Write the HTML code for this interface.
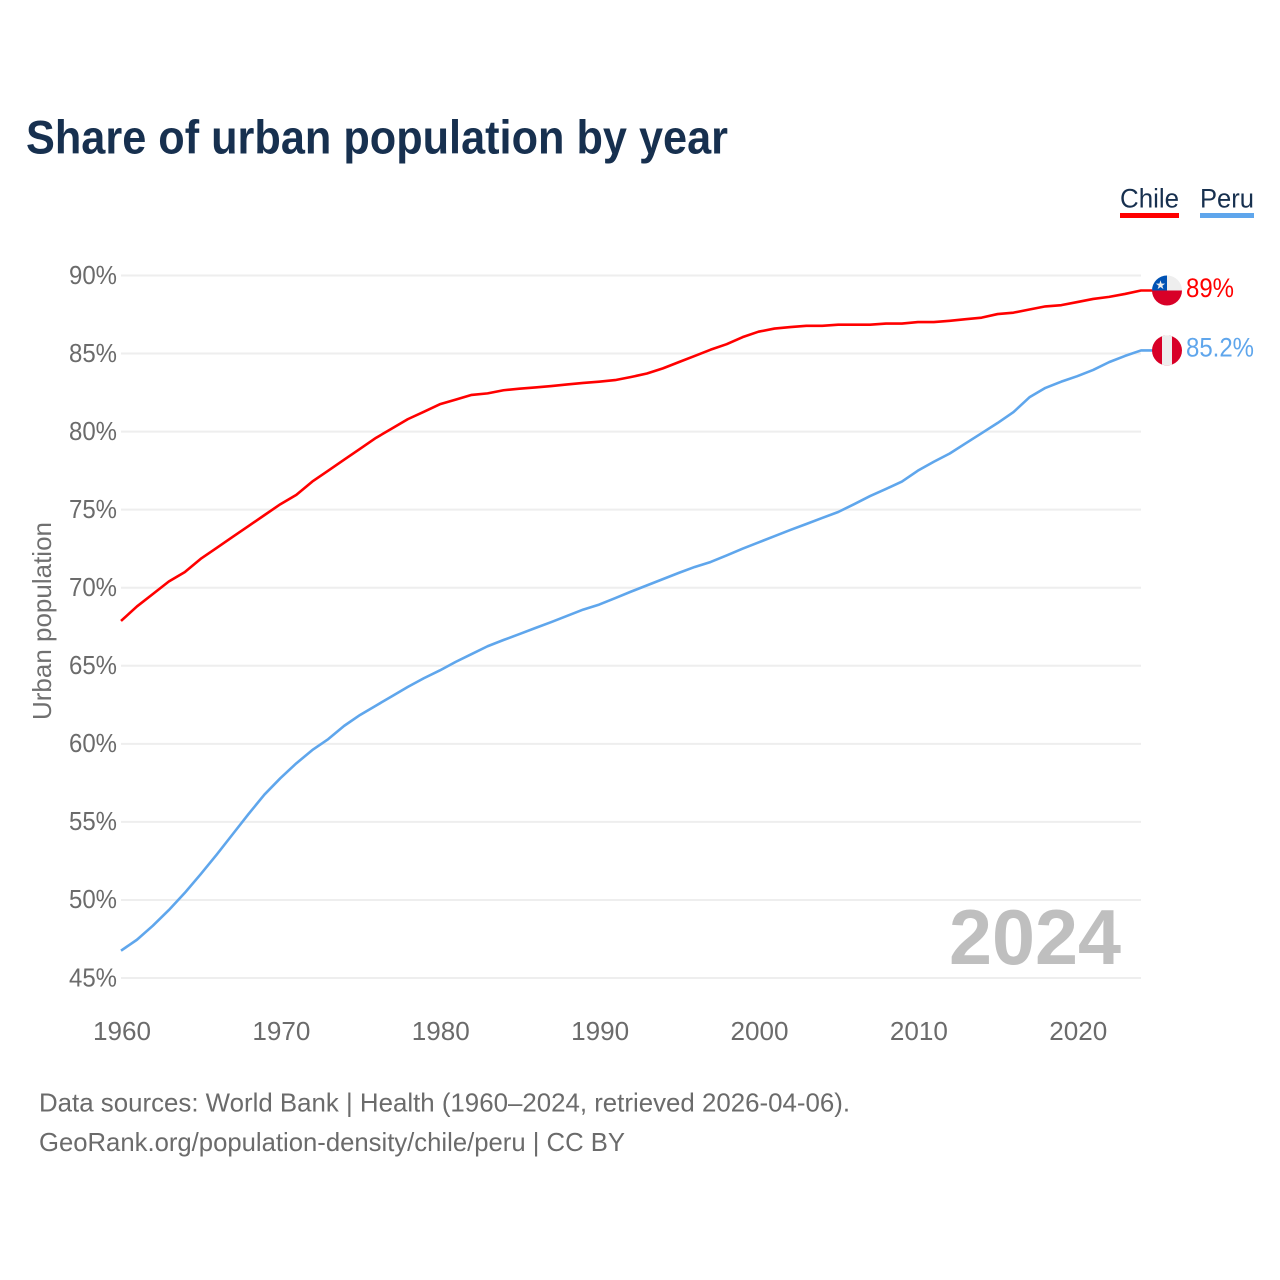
<!DOCTYPE html>
<html lang="en">
<head>
<meta charset="utf-8">
<title>Share of urban population by year</title>
<style>
html,body{margin:0;padding:0;background:#fff;width:1280px;height:1280px;overflow:hidden}
svg{display:block;font-family:"Liberation Sans",sans-serif}
</style>
</head>
<body>
<svg id="chart" xmlns="http://www.w3.org/2000/svg" width="1280" height="1280" viewBox="0 0 1280 1280">
  <rect width="1280" height="1280" fill="#fff"/>
  <text x="26" y="153.5" font-size="47" font-weight="700" fill="#17304f" textLength="702" lengthAdjust="spacingAndGlyphs">Share of urban population by year</text>

  <g>
    <text x="1120" y="207.5" font-size="27" fill="#17304f" textLength="59" lengthAdjust="spacingAndGlyphs">Chile</text>
    <rect x="1120" y="213" width="59" height="5" fill="#ff0000"/>
  </g>
  <g>
    <text x="1200" y="207.5" font-size="27" fill="#17304f" textLength="54" lengthAdjust="spacingAndGlyphs">Peru</text>
    <rect x="1200" y="213" width="54" height="5" fill="#5fa6ec"/>
  </g>

  <g id="grid"></g>
  <g id="yticks"></g>
  <g id="xticks"></g>

  <text transform="translate(51,621) rotate(-90)" text-anchor="middle" font-size="26" fill="#707070" textLength="198" lengthAdjust="spacingAndGlyphs">Urban population</text>

  <text x="949" y="964" font-size="78" font-weight="700" fill="#bfbfbf" textLength="172" lengthAdjust="spacingAndGlyphs">2024</text>

  <path id="line-chile" fill="none" stroke="#ff0000" stroke-width="2.6" stroke-linejoin="round"/>
  <path id="line-peru" fill="none" stroke="#5fa6ec" stroke-width="2.6" stroke-linejoin="round"/>

  <defs>
    <clipPath id="clip-chile"><circle id="clip-chile-c" cx="1167" r="15"/></clipPath>
    <clipPath id="clip-peru"><circle id="clip-peru-c" cx="1167" r="15"/></clipPath>
  </defs>
  <g id="flag-chile" clip-path="url(#clip-chile)"></g>
  <g id="flag-peru" clip-path="url(#clip-peru)"></g>

  <text id="value-chile" x="1186" font-size="27" fill="#ff0000" textLength="48" lengthAdjust="spacingAndGlyphs"></text>
  <text id="value-peru" x="1186" font-size="27" fill="#5fa6ec" textLength="68" lengthAdjust="spacingAndGlyphs"></text>

  <text x="39" y="1111.5" font-size="26" fill="#6b6b6b" textLength="811" lengthAdjust="spacingAndGlyphs">Data sources: World Bank | Health (1960–2024, retrieved 2026-04-06).</text>
  <text x="39" y="1151" font-size="26" fill="#6b6b6b" textLength="586" lengthAdjust="spacingAndGlyphs">GeoRank.org/population-density/chile/peru | CC BY</text>
</svg>
<script>
const firstYear = 1960;
const yTickValues = [90, 85, 80, 75, 70, 65, 60, 55, 50, 45];
const xTickValues = [1960, 1970, 1980, 1990, 2000, 2010, 2020];
const chileValues = [
  67.87, 68.8, 69.6, 70.4, 71.0, 71.85, 72.55, 73.25, 73.95, 74.65,
  75.35, 75.95, 76.8, 77.5, 78.2, 78.9, 79.6, 80.2, 80.8, 81.27,
  81.75, 82.05, 82.35, 82.45, 82.65, 82.75, 82.83, 82.92, 83.02, 83.12,
  83.2, 83.3, 83.5, 83.72, 84.05, 84.45, 84.85, 85.25, 85.6, 86.05,
  86.4, 86.6, 86.7, 86.78, 86.78, 86.85, 86.85, 86.85, 86.92, 86.92,
  87.02, 87.02, 87.1, 87.2, 87.3, 87.53, 87.62, 87.82, 88.02, 88.1,
  88.3, 88.5, 88.63, 88.82, 89.04
];
const peruValues = [
  46.75, 47.45, 48.35, 49.35, 50.45, 51.65, 52.9, 54.2, 55.5, 56.75,
  57.8, 58.75, 59.6, 60.3, 61.15, 61.85, 62.45, 63.05, 63.65, 64.2,
  64.7, 65.25, 65.75, 66.25, 66.65, 67.03, 67.42, 67.8, 68.2, 68.6,
  68.92, 69.33, 69.75, 70.15, 70.55, 70.95, 71.33, 71.65, 72.07, 72.5,
  72.9, 73.3, 73.7, 74.08, 74.47, 74.85, 75.35, 75.87, 76.33, 76.8,
  77.5, 78.07, 78.6, 79.25, 79.9, 80.55, 81.25, 82.2, 82.8, 83.2,
  83.55, 83.95, 84.45, 84.85, 85.2
];
const chileEndLabel = "89%";
const peruEndLabel = "85.2%";

const NS = "http://www.w3.org/2000/svg";
const xScale = function (year) { return 121 + (year - 1960) * (1020 / 64); };
const yScale = function (value) { return 275.5 + (90 - value) * (702.5 / 45); };

function make(tag, attrs, parent) {
  const el = document.createElementNS(NS, tag);
  for (const k in attrs) el.setAttribute(k, attrs[k]);
  parent.appendChild(el);
  return el;
}

const gridGroup = document.getElementById("grid");
const yTickGroup = document.getElementById("yticks");
yTickValues.forEach(function (v) {
  const line = make("line", { x1: 121, x2: 1141, y1: yScale(v), y2: yScale(v), stroke: "#eeeeee", "stroke-width": 2 }, gridGroup);
  
  
  const label = make("text", { x: 69, y: yScale(v) + 8.3, "font-size": 26, fill: "#6b6b6b", textLength: 48, lengthAdjust: "spacingAndGlyphs" }, yTickGroup);
  
  
  label.textContent = v + "%";
});

const xTickGroup = document.getElementById("xticks");
xTickValues.forEach(function (yr) {
  const label = make("text", { x: xScale(yr) - 28, y: 1040, "font-size": 26, fill: "#6b6b6b", textLength: 58, lengthAdjust: "spacingAndGlyphs" }, xTickGroup);
  
  
  label.textContent = yr;
});

function linePath(values) {
  let d = "";
  values.forEach(function (v, i) {
    d += (i ? "L" : "M") + xScale(firstYear + i).toFixed(2) + " " + yScale(v).toFixed(2);
  });
  const last = values[values.length - 1];
  d += "L" + (xScale(firstYear + values.length - 1) + 12).toFixed(2) + " " + yScale(last).toFixed(2);
  return d;
}
document.getElementById("line-chile").setAttribute("d", linePath(chileValues));
document.getElementById("line-peru").setAttribute("d", linePath(peruValues));

const chileEndY = yScale(chileValues[chileValues.length - 1]);
const peruEndY = yScale(peruValues[peruValues.length - 1]);

document.getElementById("clip-chile-c").setAttribute("cy", chileEndY);
document.getElementById("clip-peru-c").setAttribute("cy", peruEndY);

const flagChile = document.getElementById("flag-chile");
make("rect", { x: 1152, y: chileEndY - 15, width: 30, height: 15, fill: "#eeeeee" }, flagChile);
make("rect", { x: 1152, y: chileEndY - 15, width: 15, height: 15, fill: "#0052b4" }, flagChile);
make("rect", { x: 1152, y: chileEndY, width: 30, height: 15, fill: "#d80027" }, flagChile);
const star = make("text", { x: 1160.5, y: chileEndY - 1.5, "font-size": 12, fill: "#eeeeee", "text-anchor": "middle", "font-family": "DejaVu Sans, sans-serif" }, flagChile);


star.textContent = "★";

const flagPeru = document.getElementById("flag-peru");
make("rect", { x: 1152, y: peruEndY - 15, width: 30, height: 30, fill: "#d80027" }, flagPeru);
make("rect", { x: 1162, y: peruEndY - 15, width: 10, height: 30, fill: "#eeeeee" }, flagPeru);

const chileText = document.getElementById("value-chile");
chileText.setAttribute("y", chileEndY + 6.5);
chileText.textContent = chileEndLabel;
const peruText = document.getElementById("value-peru");
peruText.setAttribute("y", peruEndY + 6);
peruText.textContent = peruEndLabel;
</script>
</body>
</html>
